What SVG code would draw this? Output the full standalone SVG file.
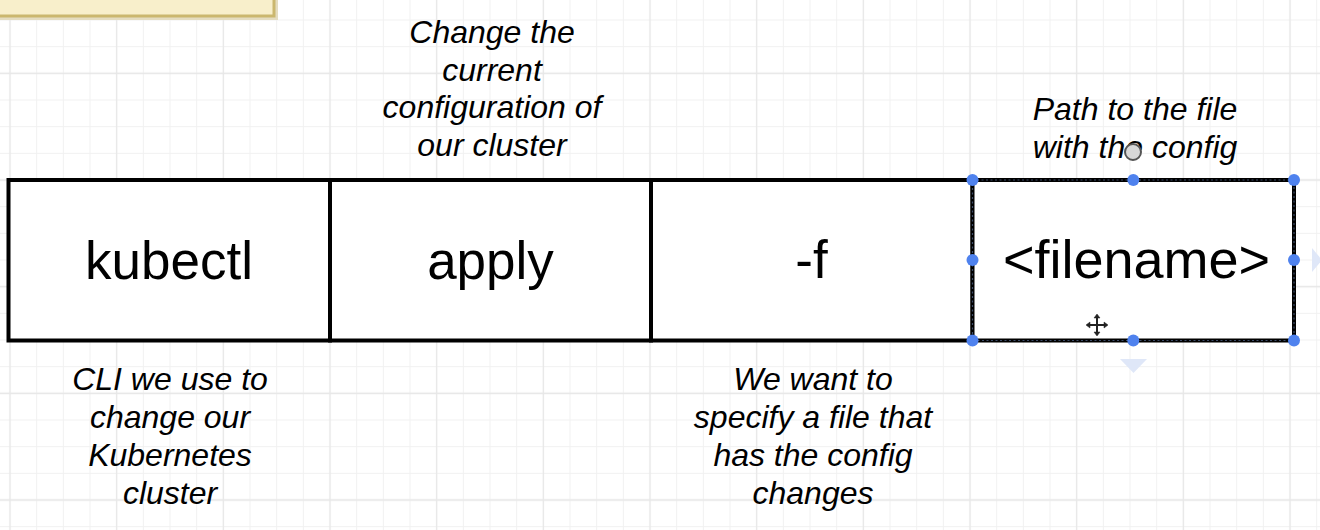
<svg xmlns="http://www.w3.org/2000/svg" width="1320" height="530" viewBox="0 0 1320 530">
  <style>
    .box { fill: #ffffff; stroke: #000000; stroke-width: 4; }
    .big { font-family: "Liberation Sans", Arial, Helvetica, sans-serif; font-size: 53px; fill: #000000; text-anchor: middle; }
    .note { font-family: "Liberation Sans", Arial, Helvetica, sans-serif; font-size: 32px; font-style: italic; fill: #000000; text-anchor: middle; }
    .handle { fill: #4f82ee; }
    .sel { fill: none; stroke: #3d4c68; stroke-width: 1.2; stroke-dasharray: 2 2.5; }
  </style>
  <defs>
    <pattern id="minor" patternUnits="userSpaceOnUse" x="-3.333" y="6.667" width="26.667" height="26.667">
      <path d="M13.333 0 V26.667 M0 13.333 H26.667" stroke="#f1f1f1" stroke-width="1" fill="none"/>
    </pattern>
    <pattern id="major" patternUnits="userSpaceOnUse" x="-43.333" y="20" width="106.667" height="106.667">
      <path d="M53.333 0 V106.667 M0 53.333 H106.667" stroke="#e7e7e7" stroke-width="1.3" fill="none"/>
    </pattern>
  </defs>

  <rect width="1320" height="530" fill="#ffffff"/>
  <rect width="1320" height="530" fill="url(#minor)"/>
  <rect width="1320" height="530" fill="url(#major)"/>

  <!-- partially visible yellow note at top-left -->
  <g id="yellow-note">
    <rect x="-10" y="-20" width="288" height="40" fill="#e4dcc0"/>
    <rect x="-10" y="-22" width="284" height="38" fill="#f8efcb" stroke="#cbb76e" stroke-width="3"/>
  </g>

  <g id="connectors"></g>

  <g id="node-kubectl">
    <rect class="box" x="8.5" y="180" width="321.5" height="160.5"/>
    <text class="big" x="169" y="279">kubectl</text>
  </g>
  <g id="node-apply">
    <rect class="box" x="330" y="180" width="321" height="160.5"/>
    <text class="big" x="490.5" y="279">apply</text>
  </g>
  <g id="node-f">
    <rect class="box" x="651" y="180" width="321.5" height="160.5"/>
    <text class="big" x="811.5" y="278">-f</text>
  </g>
  <g id="node-filename">
    <rect class="box" x="972.5" y="180" width="321.5" height="160.5"/>
    <rect class="sel" x="972.5" y="180" width="321.5" height="160.5"/>
    <text class="big" x="1136.5" y="278" style="font-size:54px">&lt;filename&gt;</text>
    <circle class="handle" cx="972.5" cy="180" r="6"/>
    <circle class="handle" cx="1133.3" cy="180" r="6"/>
    <circle class="handle" cx="1294" cy="180" r="6"/>
    <circle class="handle" cx="972.5" cy="260" r="6"/>
    <circle class="handle" cx="1294" cy="260" r="6"/>
    <circle class="handle" cx="972.5" cy="340.5" r="6"/>
    <circle class="handle" cx="1133.3" cy="340.5" r="6"/>
    <circle class="handle" cx="1294" cy="340.5" r="6"/>
    <polygon points="1120,359 1147,359 1133.5,373" fill="#dfe7f8"/>
    <polygon points="1312,248 1312,272 1322,260" fill="#dfe7f8"/>
  </g>

  <g id="note-kubectl">
    <text class="note" x="170" y="390">CLI we use to</text>
    <text class="note" x="170" y="428">change our</text>
    <text class="note" x="170" y="466">Kubernetes</text>
    <text class="note" x="170" y="504">cluster</text>
  </g>
  <g id="note-apply">
    <text class="note" x="492" y="43">Change the</text>
    <text class="note" x="492" y="80.5">current</text>
    <text class="note" x="492" y="118">configuration of</text>
    <text class="note" x="492" y="155.5">our cluster</text>
  </g>
  <g id="note-f">
    <text class="note" x="813" y="390">We want to</text>
    <text class="note" x="813" y="428">specify a file that</text>
    <text class="note" x="813" y="466">has the config</text>
    <text class="note" x="813" y="504">changes</text>
  </g>
  <g id="note-filename">
    <text class="note" x="1135" y="120">Path to the file</text>
    <text class="note" x="1135" y="157.5">with the config</text>
  </g>

  <!-- mouse cursors visible in the screenshot -->
  <g id="cursors">
    <circle cx="1133" cy="152" r="8" fill="#d8d8d8" stroke="#555555" stroke-width="2"/>
    <g stroke="#222222" stroke-width="2" fill="#222222">
      <line x1="1097" y1="316" x2="1097" y2="334"/>
      <line x1="1088" y1="325" x2="1106" y2="325"/>
      <polygon points="1097,314 1094,318 1100,318" stroke-width="0.5"/>
      <polygon points="1097,336 1094,332 1100,332" stroke-width="0.5"/>
      <polygon points="1086,325 1090,322 1090,328" stroke-width="0.5"/>
      <polygon points="1108,325 1104,322 1104,328" stroke-width="0.5"/>
    </g>
  </g>
</svg>
